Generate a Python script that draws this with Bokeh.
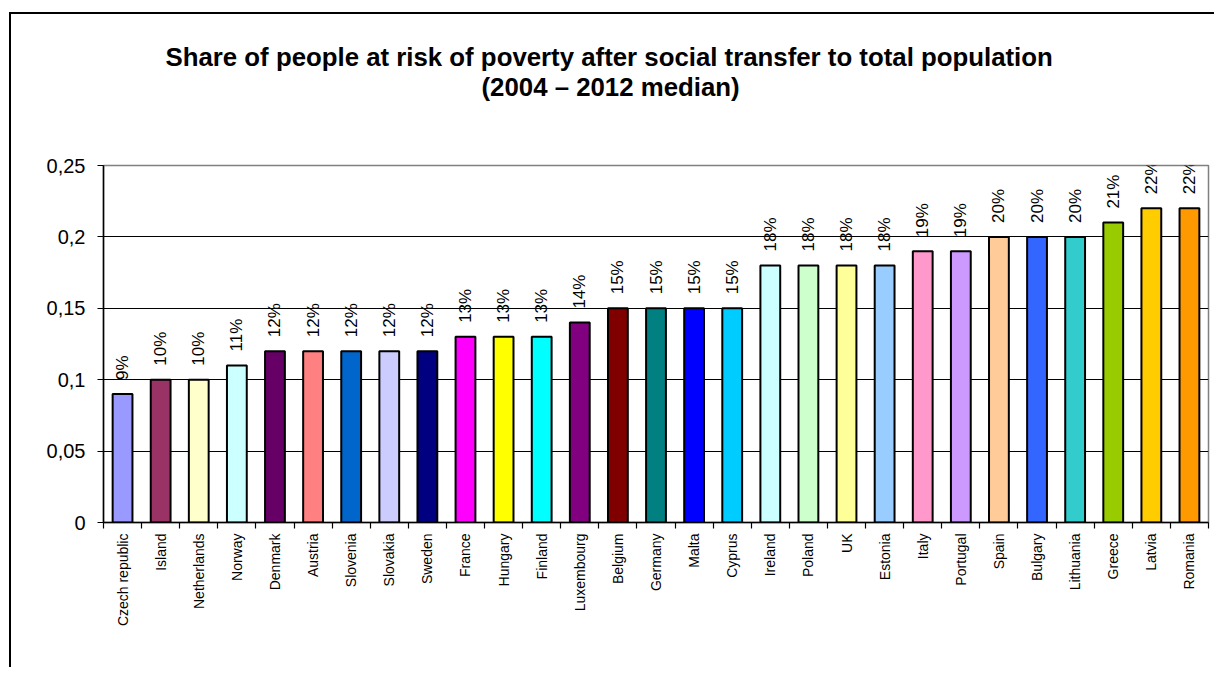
import math
from bokeh.plotting import figure
from bokeh.models import (Range1d, FixedTicker, ColumnDataSource, Title)
from bokeh.core.properties import value
from bokeh.embed import file_html
from bokeh.resources import INLINE

countries = ["Czech republic", "Island", "Netherlands", "Norway", "Denmark", "Austria",
             "Slovenia", "Slovakia", "Sweden", "France", "Hungary", "Finland",
             "Luxembourg", "Belgium", "Germany", "Malta", "Cyprus", "Ireland",
             "Poland", "UK", "Estonia", "Italy", "Portugal", "Spain", "Bulgary",
             "Lithuania", "Greece", "Latvia", "Romania"]
shares = [0.09, 0.10, 0.10, 0.11, 0.12, 0.12, 0.12, 0.12, 0.12, 0.13, 0.13, 0.13,
          0.14, 0.15, 0.15, 0.15, 0.15, 0.18, 0.18, 0.18, 0.18, 0.19, 0.19, 0.20,
          0.20, 0.20, 0.21, 0.22, 0.22]
bar_colors = ["#9999FF", "#993366", "#FFFFCC", "#CCFFFF", "#660066", "#FF8080",
              "#0066CC", "#CCCCFF", "#000080", "#FF00FF", "#FFFF00", "#00FFFF",
              "#800080", "#800000", "#008080", "#0000FF", "#00CCFF", "#CCFFFF",
              "#CCFFCC", "#FFFF99", "#99CCFF", "#FF99CC", "#CC99FF", "#FFCC99",
              "#3366FF", "#33CCCC", "#99CC00", "#FFCC00", "#FF9900"]
y_ticks = [0, 0.05, 0.1, 0.15, 0.2, 0.25]
y_tick_labels = ["0", "0,05", "0,1", "0,15", "0,2", "0,25"]
title_lines = ["Share of people at risk of poverty after social transfer to total population",
               "(2004 \u2013 2012 median)"]

n = len(countries)
xs = [i + 0.5 for i in range(n)]
pct = ["%d%%" % round(v * 100) for v in shares]

src = ColumnDataSource(dict(x=xs, share=shares, color=bar_colors, pct=pct))

p = figure(width=1205, height=655, output_backend="svg", toolbar_location=None,
           x_range=Range1d(0, n), y_range=Range1d(0, 0.25),
           min_border_left=92, min_border_right=8, min_border_top=151,
           min_border_bottom=147)
p.styles = {"margin-left": "9px", "margin-top": "12px",
            "border-left": "2px solid black", "border-top": "2px solid black"}
p.title.visible = False
p.outline_line_color = "#808080"
p.outline_line_width = 1.5
p.background_fill_color = "white"
p.border_fill_color = "white"

# grid
p.xgrid.visible = False
p.ygrid.ticker = FixedTicker(ticks=y_ticks)
p.ygrid.grid_line_color = "black"
p.ygrid.grid_line_width = 1.2

# y axis
p.yaxis.ticker = FixedTicker(ticks=y_ticks)
p.yaxis.major_label_overrides = {t: l for t, l in zip(y_ticks, y_tick_labels)}
p.yaxis.major_label_text_font = "Liberation Sans"
p.yaxis.major_label_text_font_size = "20px"
p.yaxis.major_label_text_color = "black"
p.yaxis.major_label_standoff = 12
p.yaxis.axis_line_color = "black"
p.yaxis.axis_line_width = 1.5
p.yaxis.major_tick_line_color = "black"
p.yaxis.major_tick_out = 6
p.yaxis.major_tick_in = 0
p.yaxis.minor_tick_line_color = None

# x axis: labels at centers, ticks at boundaries
p.xaxis.ticker = FixedTicker(ticks=xs, minor_ticks=list(range(n + 1)))
p.xaxis.major_label_overrides = {x: c for x, c in zip(xs, countries)}
p.xaxis.major_label_orientation = math.pi / 2
p.xaxis.major_label_text_font = "Liberation Sans"
p.xaxis.major_label_text_font_size = "14px"
p.xaxis.major_label_text_color = "black"
p.xaxis.major_tick_line_color = None
p.xaxis.major_tick_out = 5
p.xaxis.major_label_standoff = 5
p.xaxis.minor_tick_line_color = "black"
p.xaxis.minor_tick_line_width = 1.2
p.xaxis.minor_tick_out = 6
p.xaxis.minor_tick_in = 0
p.xaxis.axis_line_color = "black"
p.xaxis.axis_line_width = 1.5

p.vbar(x="x", top="share", width=0.52, bottom=0, fill_color="color",
       line_color="black", line_width=2, source=src)

p.text(x="x", y="share", text="pct", angle=math.pi / 2, source=src,
       text_align="left", text_baseline="middle", y_offset=-14,
       text_font=value("Liberation Sans"), text_font_size="17px", text_color="black")

# titles (stacked above the plot area; first added is nearest to it)
p.add_layout(Title(text=" ", text_font_size="20px", standoff=40), "above")
p.add_layout(Title(text=title_lines[1], align="left", offset=378,
                   vertical_align="middle", standoff=0,
                   text_font="Liberation Sans", text_font_style="bold",
                   text_font_size="25.8px", text_color="black"), "above")
p.add_layout(Title(text=title_lines[0], align="left", offset=62,
                   vertical_align="middle", standoff=0,
                   text_font="Liberation Sans", text_font_style="bold",
                   text_font_size="25.8px", text_color="black"), "above")

open("out.html", "w").write(file_html(p, INLINE))
